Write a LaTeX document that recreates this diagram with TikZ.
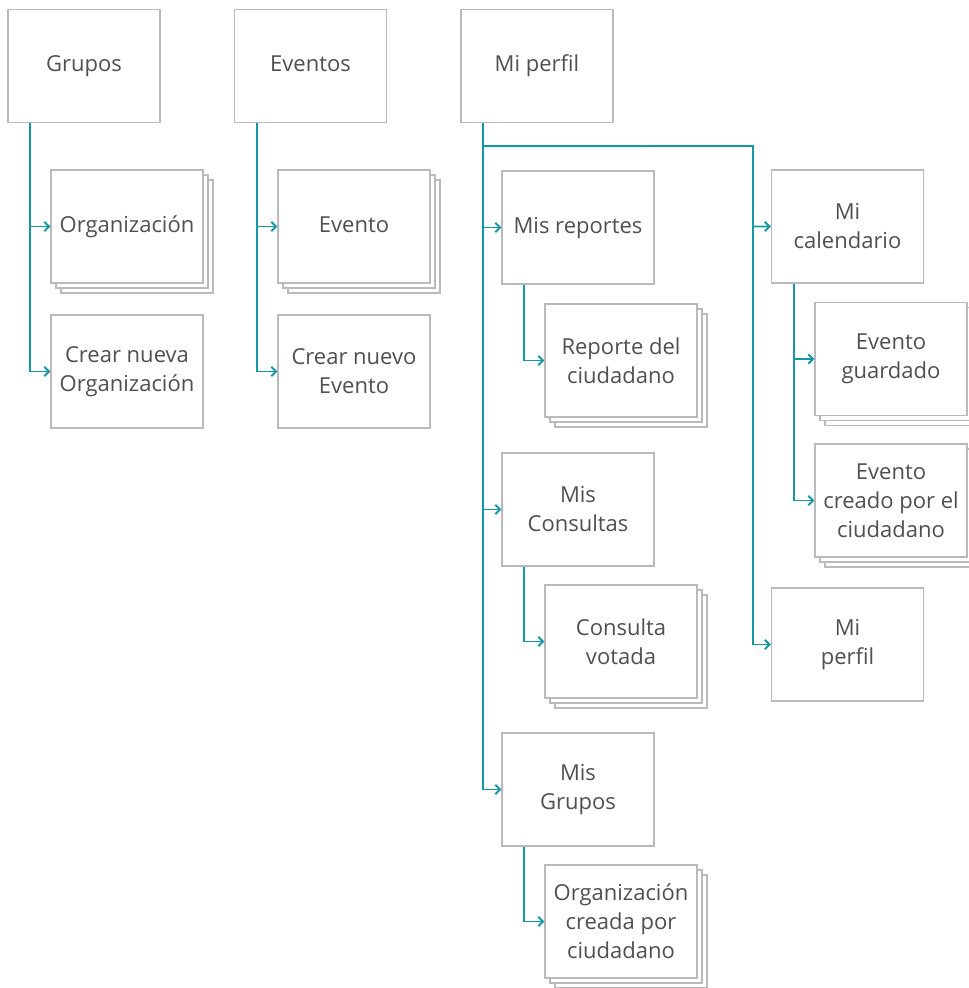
\documentclass[tikz,border=0pt]{standalone}
\usepackage{fontspec}
\setmainfont{Open Sans}
\usetikzlibrary{shadows,arrows.meta}
\definecolor{boxgray}{RGB}{185,185,190}
\definecolor{textgray}{RGB}{80,80,80}
\definecolor{linkteal}{RGB}{20,152,166}
\begin{document}
\begin{tikzpicture}[x=0.75pt, y=-0.75pt,
    page/.style={rectangle, draw=boxgray, fill=white, line width=1pt, minimum width=114pt, minimum height=84.75pt, align=center, text=textgray, inner sep=2pt, font=\fontsize{16.5}{21.75}\selectfont},
    oneline/.style={execute at begin node=\strut},
    pages/.style={page, double copy shadow={shadow xshift=3.75pt, shadow yshift=-3.75pt}},
    link/.style={-{Straight Barb[length=3.5pt, width=7pt]}, linkteal, line width=1.4pt}]
    \useasboundingbox (0,0) rectangle (969,988);

    % top level
    \node [page, oneline] (grupos) at (84,66) {Grupos};
    \node [page, oneline] (eventos) at (310.5,66) {Eventos};
    \node [page, oneline] (perfil) at (537,66) {Mi perfil};

    % grupos
    \node [pages, oneline] (org) at (127,226.5) {Organización};
    \node [page] (crearorg) at (127,371.5) {Crear nueva\\Organización};

    % eventos
    \node [pages, oneline] (evento) at (354,226.5) {Evento};
    \node [page] (crearev) at (354,371.5) {Crear nuevo\\Evento};

    % mi perfil
    \node [page, oneline] (reportes) at (578,227.5) {Mis reportes};
    \node [pages] (reporte) at (621,360.5) {Reporte del\\ciudadano};
    \node [page] (consultas) at (578,509.5) {Mis\\Consultas};
    \node [pages] (consulta) at (621,641.5) {Consulta\\votada};
    \node [page] (misgrupos) at (578,789.5) {Mis\\Grupos};
    \node [pages] (orgcreada) at (621,921.5) {Organización\\creada por\\ciudadano};
    \node [page] (calendario) at (847.5,226.5) {Mi\\calendario};
    \node [pages] (guardado) at (891,359) {Evento\\guardado};
    \node [pages] (creado) at (891,500.5) {Evento\\creado por el\\ciudadano};
    \node [page] (miperfil) at (847.5,644.5) {Mi\\perfil};

    \coordinate (rbus) at (753,146);

    \begin{scope}[every path/.style={link}]
        \draw (grupos.south west) ++(23,0) |- (org.west);
        \draw (grupos.south west) ++(23,0) |- (crearorg.west);
        \draw (eventos.south west) ++(23,0) |- (evento.west);
        \draw (eventos.south west) ++(23,0) |- (crearev.west);
        \draw (perfil.south west) ++(23,0) |- (reportes.west);
        \draw (perfil.south west) ++(23,0) |- (consultas.west);
        \draw (perfil.south west) ++(23,0) |- (misgrupos.west);
        \draw (perfil.south west) ++(23,23) -- (rbus) |- (calendario.west);
        \draw (rbus) |- (miperfil.west);
        \draw (reportes.south west) ++(23,0) |- (reporte.west);
        \draw (consultas.south west) ++(23,0) |- (consulta.west);
        \draw (misgrupos.south west) ++(23,0) |- (orgcreada.west);
        \draw (calendario.south west) ++(23,0) |- (guardado.west);
        \draw (calendario.south west) ++(23,0) |- (creado.west);
    \end{scope}
\end{tikzpicture}
\end{document}
